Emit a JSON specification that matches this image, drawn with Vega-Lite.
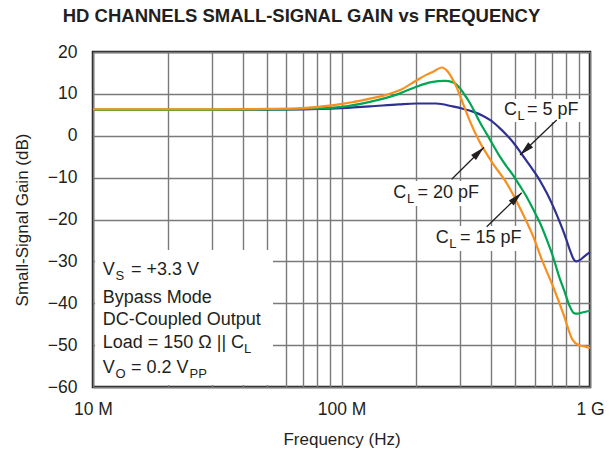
{
  "$schema": "https://vega.github.io/schema/vega-lite/v6.json",
  "width": 497,
  "height": 335,
  "autosize": {"type": "none"},
  "padding": {"left": 93, "top": 52, "right": 24, "bottom": 66},
  "background": "white",
  "config": {
    "font": "Liberation Sans",
    "view": {"stroke": "#231f20", "strokeWidth": 2.5},
    "axis": {
      "grid": true,
      "ticks": false,
      "domain": false,
      "gridColor": "#7a7a7a",
      "gridWidth": 1.4,
      "labelFontSize": 17.5,
      "labelColor": "#231f20",
      "titleFontSize": 17,
      "titleFontWeight": "normal",
      "titleColor": "#231f20",
      "labelOverlap": false,
      "labelFlush": false,
      "labelBound": false
    }
  },
  "title": {
    "text": "HD CHANNELS SMALL-SIGNAL GAIN vs FREQUENCY",
    "fontSize": 18.5,
    "fontWeight": "bold",
    "font": "Liberation Sans",
    "color": "#231f20",
    "anchor": "middle",
    "frame": "group",
    "dx": -40,
    "dy": 25,
    "offset": 24,
    "baseline": "bottom"
  },
  "datasets": {
    "curves": [
      {"f": 1e7, "g": 6.2, "c": "5 pF"},
      {"f": 2e7, "g": 6.2, "c": "5 pF"},
      {"f": 3e7, "g": 6.2, "c": "5 pF"},
      {"f": 5e7, "g": 6.25, "c": "5 pF"},
      {"f": 7e7, "g": 6.3, "c": "5 pF"},
      {"f": 1e8, "g": 6.6, "c": "5 pF"},
      {"f": 1.3e8, "g": 7.0, "c": "5 pF"},
      {"f": 1.7e8, "g": 7.5, "c": "5 pF"},
      {"f": 2e8, "g": 7.7, "c": "5 pF"},
      {"f": 2.4e8, "g": 7.7, "c": "5 pF"},
      {"f": 2.8e8, "g": 7.0, "c": "5 pF"},
      {"f": 3.1e8, "g": 6.4, "c": "5 pF"},
      {"f": 3.4e8, "g": 5.7, "c": "5 pF"},
      {"f": 3.7e8, "g": 4.8, "c": "5 pF"},
      {"f": 4.0e8, "g": 3.6, "c": "5 pF"},
      {"f": 4.3e8, "g": 2.0, "c": "5 pF"},
      {"f": 4.6e8, "g": 0.3, "c": "5 pF"},
      {"f": 5.0e8, "g": -2.2, "c": "5 pF"},
      {"f": 5.3e8, "g": -4.3, "c": "5 pF"},
      {"f": 5.6e8, "g": -6.3, "c": "5 pF"},
      {"f": 5.9e8, "g": -8.2, "c": "5 pF"},
      {"f": 6.3e8, "g": -10.8, "c": "5 pF"},
      {"f": 6.7e8, "g": -13.7, "c": "5 pF"},
      {"f": 7.1e8, "g": -16.8, "c": "5 pF"},
      {"f": 7.6e8, "g": -21.0, "c": "5 pF"},
      {"f": 8.0e8, "g": -24.5, "c": "5 pF"},
      {"f": 8.3e8, "g": -27.3, "c": "5 pF"},
      {"f": 8.6e8, "g": -29.5, "c": "5 pF"},
      {"f": 8.8e8, "g": -30.0, "c": "5 pF"},
      {"f": 9.1e8, "g": -29.7, "c": "5 pF"},
      {"f": 9.5e8, "g": -28.8, "c": "5 pF"},
      {"f": 1e9, "g": -27.8, "c": "5 pF"},
      {"f": 1e7, "g": 6.2, "c": "15 pF"},
      {"f": 3e7, "g": 6.2, "c": "15 pF"},
      {"f": 5e7, "g": 6.3, "c": "15 pF"},
      {"f": 7e7, "g": 6.4, "c": "15 pF"},
      {"f": 1e8, "g": 6.9, "c": "15 pF"},
      {"f": 1.3e8, "g": 8.1, "c": "15 pF"},
      {"f": 1.7e8, "g": 10.0, "c": "15 pF"},
      {"f": 2e8, "g": 11.7, "c": "15 pF"},
      {"f": 2.3e8, "g": 12.8, "c": "15 pF"},
      {"f": 2.6e8, "g": 13.1, "c": "15 pF"},
      {"f": 2.8e8, "g": 12.8, "c": "15 pF"},
      {"f": 3.0e8, "g": 11.3, "c": "15 pF"},
      {"f": 3.1e8, "g": 10.1, "c": "15 pF"},
      {"f": 3.25e8, "g": 8.3, "c": "15 pF"},
      {"f": 3.4e8, "g": 6.2, "c": "15 pF"},
      {"f": 3.6e8, "g": 3.3, "c": "15 pF"},
      {"f": 3.86e8, "g": 0.2, "c": "15 pF"},
      {"f": 4.1e8, "g": -2.5, "c": "15 pF"},
      {"f": 4.34e8, "g": -5.0, "c": "15 pF"},
      {"f": 4.6e8, "g": -7.2, "c": "15 pF"},
      {"f": 4.9e8, "g": -9.4, "c": "15 pF"},
      {"f": 5.2e8, "g": -11.8, "c": "15 pF"},
      {"f": 5.55e8, "g": -14.5, "c": "15 pF"},
      {"f": 5.9e8, "g": -17.5, "c": "15 pF"},
      {"f": 6.3e8, "g": -20.9, "c": "15 pF"},
      {"f": 6.7e8, "g": -24.8, "c": "15 pF"},
      {"f": 7.1e8, "g": -28.9, "c": "15 pF"},
      {"f": 7.5e8, "g": -33.5, "c": "15 pF"},
      {"f": 7.9e8, "g": -37.2, "c": "15 pF"},
      {"f": 8.3e8, "g": -40.8, "c": "15 pF"},
      {"f": 8.6e8, "g": -42.3, "c": "15 pF"},
      {"f": 8.9e8, "g": -42.5, "c": "15 pF"},
      {"f": 9.3e8, "g": -42.2, "c": "15 pF"},
      {"f": 1e9, "g": -41.8, "c": "15 pF"},
      {"f": 1e7, "g": 6.3, "c": "20 pF"},
      {"f": 3e7, "g": 6.3, "c": "20 pF"},
      {"f": 5e7, "g": 6.4, "c": "20 pF"},
      {"f": 7e7, "g": 6.6, "c": "20 pF"},
      {"f": 9.3e7, "g": 7.3, "c": "20 pF"},
      {"f": 1.1e8, "g": 8.0, "c": "20 pF"},
      {"f": 1.26e8, "g": 8.7, "c": "20 pF"},
      {"f": 1.5e8, "g": 9.7, "c": "20 pF"},
      {"f": 1.72e8, "g": 10.9, "c": "20 pF"},
      {"f": 2.0e8, "g": 13.2, "c": "20 pF"},
      {"f": 2.2e8, "g": 14.6, "c": "20 pF"},
      {"f": 2.34e8, "g": 15.3, "c": "20 pF"},
      {"f": 2.53e8, "g": 16.3, "c": "20 pF"},
      {"f": 2.68e8, "g": 15.3, "c": "20 pF"},
      {"f": 2.8e8, "g": 13.5, "c": "20 pF"},
      {"f": 2.9e8, "g": 11.7, "c": "20 pF"},
      {"f": 3.08e8, "g": 7.75, "c": "20 pF"},
      {"f": 3.27e8, "g": 3.8, "c": "20 pF"},
      {"f": 3.59e8, "g": -1.4, "c": "20 pF"},
      {"f": 4.06e8, "g": -6.6, "c": "20 pF"},
      {"f": 4.62e8, "g": -11.3, "c": "20 pF"},
      {"f": 5.23e8, "g": -17.3, "c": "20 pF"},
      {"f": 5.91e8, "g": -24.1, "c": "20 pF"},
      {"f": 6.4e8, "g": -29.6, "c": "20 pF"},
      {"f": 7.1e8, "g": -36.0, "c": "20 pF"},
      {"f": 7.8e8, "g": -42.4, "c": "20 pF"},
      {"f": 8.5e8, "g": -48.7, "c": "20 pF"},
      {"f": 9.0e8, "g": -50.0, "c": "20 pF"},
      {"f": 9.5e8, "g": -50.3, "c": "20 pF"},
      {"f": 1e9, "g": -50.7, "c": "20 pF"}
    ],
    "boxes": [
      {"f": 1.02e7, "f2": 5.301e7, "g": -59.5, "g2": -27.28},
      {"f": 4.343e8, "f2": 9.816e8, "g": 8.78, "g2": 3.28},
      {"f": 1.567e8, "f2": 3.814e8, "g": -10.81, "g2": -16.78},
      {"f": 2.313e8, "f2": 5.631e8, "g": -21.55, "g2": -27.52}
    ],
    "texts": [
      {"f": 1.094e7, "g": -33.25, "t": "V"},
      {"f": 1.422e7, "g": -33.25, "t": "= +3.3 V"},
      {"f": 1.094e7, "g": -39.87, "t": "Bypass Mode"},
      {"f": 1.094e7, "g": -45.19, "t": "DC-Coupled Output"},
      {"f": 1.094e7, "g": -50.76, "t": "Load = 150 Ω || C"},
      {"f": 1.094e7, "g": -56.73, "t": "V"},
      {"f": 1.422e7, "g": -56.73, "t": "= 0.2 V"},
      {"f": 4.507e8, "g": 4.955, "t": "C"},
      {"f": 5.579e8, "g": 4.955, "t": "= 5 pF"},
      {"f": 1.616e8, "g": -14.94, "t": "C"},
      {"f": 2.022e8, "g": -14.94, "t": "= 20 pF"},
      {"f": 2.393e8, "g": -25.54, "t": "C"},
      {"f": 2.998e8, "g": -25.54, "t": "= 15 pF"}
    ],
    "subs": [
      {"f": 1.232e7, "g": -34.45, "t": "S"},
      {"f": 1.232e7, "g": -57.85, "t": "O"},
      {"f": 2.446e7, "g": -57.85, "t": "PP"},
      {"f": 4.053e7, "g": -51.88, "t": "L"},
      {"f": 5.108e8, "g": 3.76, "t": "L"},
      {"f": 1.835e8, "g": -16.06, "t": "L"},
      {"f": 2.716e8, "g": -26.69, "t": "L"}
    ],
    "arrows": [
      {"f": 5.228e8, "g": -4.6, "f0": 7.345e8, "g0": 3.76, "c": "5 pF"},
      {"f": 3.745e8, "g": -2.76, "f0": 2.776e8, "g0": -10.4, "c": "20 pF"},
      {"f": 5.311e8, "g": -13.6, "f0": 3.84e8, "g0": -21.72, "c": "15 pF"}
    ]
  },
  "encoding": {
    "x": {
      "field": "f",
      "type": "quantitative",
      "scale": {"type": "log", "domain": [10000000, 1000000000], "nice": false},
      "axis": {
        "title": "Frequency (Hz)",
        "values": [10000000, 20000000, 30000000, 40000000, 50000000, 60000000, 70000000, 80000000, 90000000, 100000000, 200000000, 300000000, 400000000, 500000000, 600000000, 700000000, 800000000, 900000000, 1000000000],
        "labelExpr": "datum.value == 10000000 ? '10 M' : datum.value == 100000000 ? '100 M' : datum.value == 1000000000 ? '1 G' : ''",
        "labelPadding": 13,
        "titlePadding": 14
      }
    },
    "y": {
      "field": "g",
      "type": "quantitative",
      "scale": {"domain": [-60, 20], "nice": false},
      "axis": {
        "title": "Small-Signal Gain (dB)",
        "values": [-60, -50, -40, -30, -20, -10, 0, 10, 20],
        "labelPadding": 16,
        "titlePadding": 16
      }
    }
  },
  "layer": [
    {
      "data": {"name": "boxes"},
      "mark": {"type": "rect", "fill": "white", "stroke": null},
      "encoding": {
        "x2": {"field": "f2"},
        "y2": {"field": "g2"}
      }
    },
    {
      "data": {"name": "curves"},
      "mark": {"type": "line", "strokeWidth": 2.2, "interpolate": "monotone"},
      "encoding": {
        "color": {
          "field": "c",
          "type": "nominal",
          "scale": {"domain": ["5 pF", "15 pF", "20 pF"], "range": ["#2e3192", "#00a651", "#f7901e"]},
          "legend": null
        }
      }
    },
    {
      "data": {"name": "arrows"},
      "mark": {"type": "rule", "color": "#231f20", "strokeWidth": 1.3},
      "encoding": {
        "x2": {"field": "f0"},
        "y2": {"field": "g0"}
      }
    },
    {
      "data": {"name": "arrows"},
      "transform": [{"filter": "datum.c == '5 pF'"}],
      "mark": {"type": "point", "shape": "M0,0L0.5,2.1L-0.5,2.1Z", "filled": true, "color": "#231f20", "opacity": 1, "size": 196, "angle": 226.4}
    },
    {
      "data": {"name": "arrows"},
      "transform": [{"filter": "datum.c != '5 pF'"}],
      "mark": {"type": "point", "shape": "M0,0L0.5,2.1L-0.5,2.1Z", "filled": true, "color": "#231f20", "opacity": 1, "size": 196, "angle": 45.5}
    },
    {
      "data": {"name": "texts"},
      "mark": {"type": "text", "align": "left", "baseline": "alphabetic", "fontSize": 18, "color": "#231f20"},
      "encoding": {"text": {"field": "t"}}
    },
    {
      "data": {"name": "subs"},
      "mark": {"type": "text", "align": "left", "baseline": "alphabetic", "fontSize": 13, "color": "#231f20"},
      "encoding": {"text": {"field": "t"}}
    }
  ]
}
